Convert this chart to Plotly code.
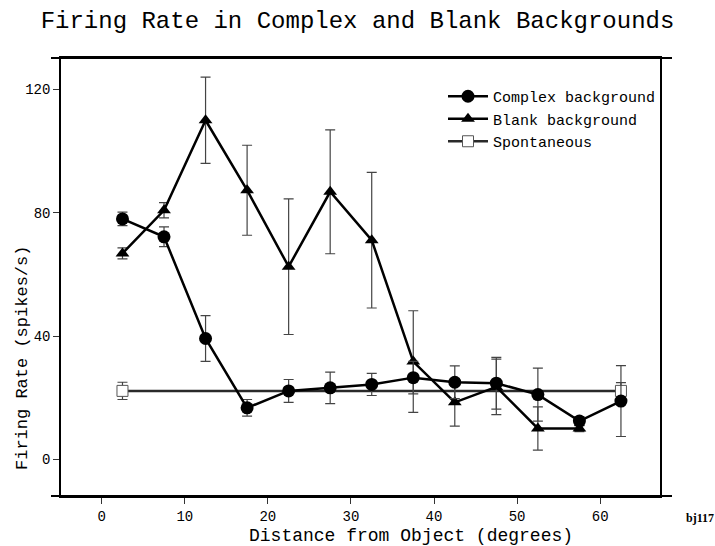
import plotly.graph_objects as go

# ---- data ----
distance = [2.5, 7.5, 12.5, 17.5, 22.5, 27.5, 32.5, 37.5, 42.5, 47.5, 52.5, 57.5, 62.5]
complex_rate = [78, 72.2, 39.2, 16.7, 22.2, 23.2, 24.3, 26.5, 25, 24.7, 21, 12.4, 18.9]
complex_err = [2.2, 3.2, 7.4, 2.7, 3.7, 5.1, 3.6, 5.3, 5.3, 8.4, 8.6, 1.5, 11.5]

blank_distance = [2.5, 7.5, 12.5, 17.5, 22.5, 27.5, 32.5, 37.5, 42.5, 47.5, 52.5, 57.5]
blank_rate = [66.8, 80.8, 110.0, 87.3, 62.5, 86.8, 71.1, 31.7, 18.5, 23.5, 10.0, 10.0]
blank_err = [1.8, 2.5, 14.0, 14.6, 22.0, 20.1, 22.0, 16.5, 7.7, 9.0, 7.0, 1.0]

spont_distance = [2.5, 62.5]
spont_rate = [22.2, 22.2]
spont_err = [2.8, 2.7]

x_ticks = [0, 10, 20, 30, 40, 50, 60]
y_ticks = [0, 40, 80, 120]

FONT = "Liberation Mono, Courier New, monospace"

fig = go.Figure()

fig.add_trace(go.Scatter(
    x=spont_distance, y=spont_rate, name="Spontaneous", mode="lines+markers",
    line=dict(color="#2a2a2a", width=2.5),
    marker=dict(symbol="square", size=11, color="white", line=dict(color="#555", width=1)),
    error_y=dict(type="data", array=spont_err, color="#444", thickness=1.2, width=5),
    legendrank=3,
))
fig.add_trace(go.Scatter(
    x=blank_distance, y=blank_rate, name="Blank background", mode="lines+markers",
    line=dict(color="black", width=2.5),
    marker=dict(symbol="triangle-up", size=12, color="black"),
    error_y=dict(type="data", array=blank_err, color="#444", thickness=1.2, width=5),
    legendrank=2,
))
fig.add_trace(go.Scatter(
    x=distance, y=complex_rate, name="Complex background", mode="lines+markers",
    line=dict(color="black", width=2.5),
    marker=dict(symbol="circle", size=13, color="black"),
    error_y=dict(type="data", array=complex_err, color="#444", thickness=1.2, width=5),
    legendrank=1,
))

L, R, T, B = 61, 55, 58, 50
W, H = 715, 546
pw, ph = W - L - R, H - T - B

fig.update_layout(
    width=W, height=H,
    margin=dict(l=L, r=R, t=T, b=B),
    paper_bgcolor="white", plot_bgcolor="white",
    font=dict(family=FONT, color="black", size=14),
    title=dict(text="Firing Rate in Complex and Blank Backgrounds",
               x=0.5, xanchor="center", y=1 - 20 / H, yanchor="middle",
               font=dict(family=FONT, size=24, color="black")),
    showlegend=True,
    legend=dict(x=(443 - L) / pw, y=(H - B - 80) / ph, xanchor="left", yanchor="top",
                bgcolor="rgba(0,0,0,0)", font=dict(family=FONT, size=15, color="black"),
                tracegroupgap=0, itemwidth=40),
)

fig.update_xaxes(
    range=[-4.9, 67.2], tickvals=x_ticks, ticktext=[str(v) for v in x_ticks],
    showgrid=False, zeroline=False,
    showline=True, linecolor="black", linewidth=2, mirror=True,
    ticks="outside", ticklen=6, tickwidth=1, tickcolor="#333",
    tickfont=dict(family=FONT, size=14, color="black"),
)
fig.update_yaxes(
    range=[-11.9, 130.2], tickvals=y_ticks, ticktext=[str(v) for v in y_ticks],
    showgrid=False, zeroline=False,
    showline=True, linecolor="black", linewidth=1.5, mirror=True,
    ticks="outside", ticklen=6, tickwidth=1, tickcolor="#333",
    tickfont=dict(family=FONT, size=14, color="black"),
)

# horizontal frame lines extend beyond the vertical ones
for yy in (0, 1):
    fig.add_shape(type="line", xref="paper", yref="paper",
                  x0=-10 / pw, x1=1 + 12 / pw, y0=yy, y1=yy,
                  line=dict(color="black", width=2))

fig.add_annotation(text="Distance from Object (degrees)", xref="paper", yref="paper",
                   x=(411 - L) / pw, y=-(536 - (H - B)) / ph, xanchor="center", yanchor="middle",
                   showarrow=False, font=dict(family=FONT, size=18, color="black"))
fig.add_annotation(text="Firing Rate (spikes/s)", xref="paper", yref="paper",
                   x=(22 - L) / pw, y=(H - B - 358) / ph, xanchor="center", yanchor="middle",
                   textangle=-90, showarrow=False, font=dict(family=FONT, size=17, color="black"))
fig.add_annotation(text="<b>bj117</b>", xref="paper", yref="paper",
                   x=(700 - L) / pw, y=-(518 - (H - B)) / ph, xanchor="center", yanchor="middle",
                   showarrow=False, font=dict(family="Liberation Serif, serif", size=12, color="black"))

fig.write_html("out.html")
